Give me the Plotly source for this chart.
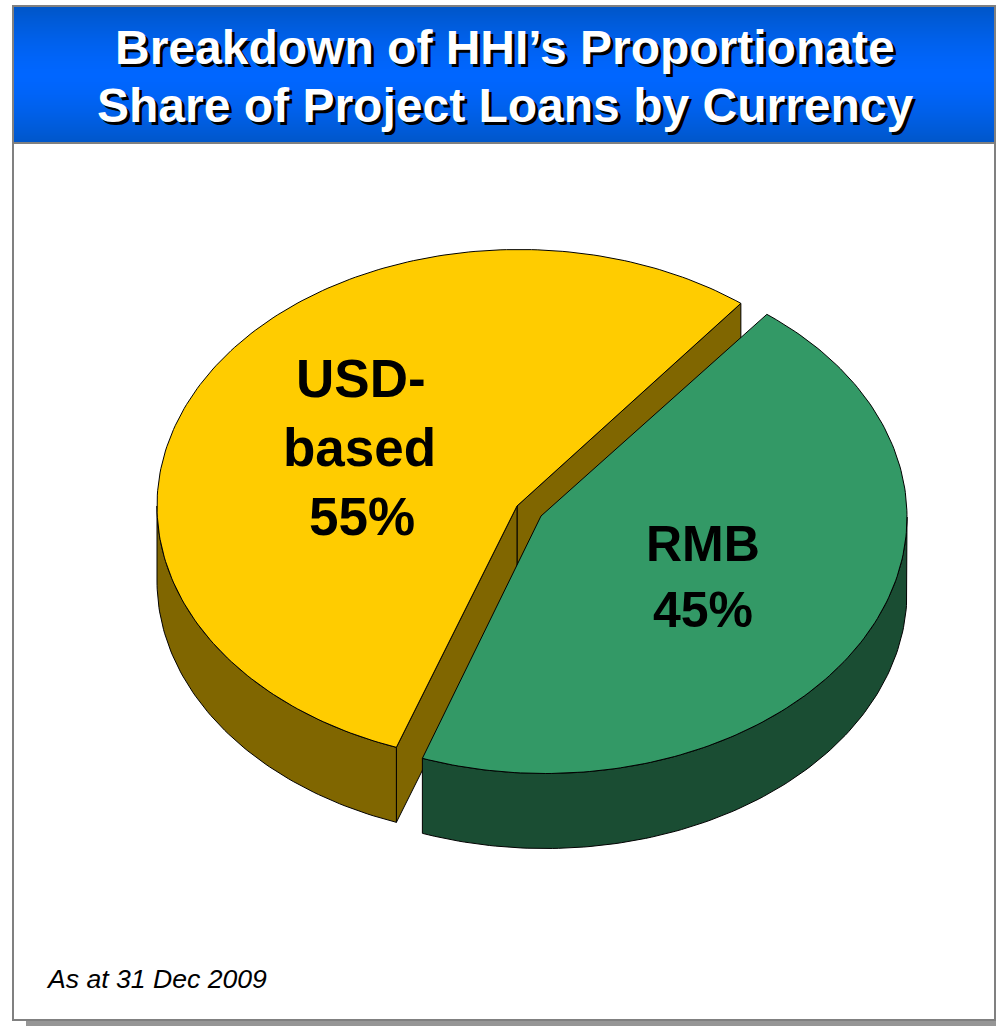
import numpy as np
import plotly.graph_objects as go

# Loan shares by currency, percent
currencies = ["USD-based", "RMB"]
shares = [55, 45]
label_lines = [["USD-", "based"], ["RMB"]]
title_lines = ["Breakdown of HHI\u2019s Proportionate", "Share of Project Loans by Currency"]
footnote = "As at 31 Dec 2009"

TOP_COLORS = ["#FFCC00", "#339966"]
WALL_COLORS = ["#806600", "#1A4D33"]
EDGE = "#000000"
FONT = "Liberation Sans"

W, H = 996, 1026
# Projected disc: ellipse centre of each slice, slice apex, radii, extrusion depth
# and rotation of the first slice
CENTERS = [(519.0, 506.0), (545.0, 517.0)]
APEXES = [(517.0, 506.0), (541.0, 516.0)]
RX, RY = 362.0, 256.5
DEPTH = 75.0
START_DEG = 52.2


def rim(center, a0, a1):
    n = max(2, int(abs(a1 - a0)) + 2)
    t = np.radians(np.linspace(a0, a1, n))
    return center[0] + RX * np.cos(t), center[1] - RY * np.sin(t)


def polygon(x, y, color, line_color=EDGE):
    return go.Scatter(
        x=list(x) + [x[0]], y=list(y) + [y[0]], mode="lines", fill="toself",
        fillcolor=color, line=dict(color=line_color, width=1),
        hoverinfo="skip", showlegend=False,
    )


def outer_wall(center, a0, a1, color):
    x, y = rim(center, a0, a1)
    return polygon(np.r_[x, x[::-1]], np.r_[y, y[::-1] + DEPTH], color)


def radial_wall(center, apex, angle, color):
    x, y = rim(center, angle, angle)
    ax, ay = apex
    return polygon(
        [ax, x[0], x[0], ax], [ay, y[0], y[0] + DEPTH, ay + DEPTH], color
    )


def top_face(center, apex, a0, a1, color):
    x, y = rim(center, a0, a1)
    return polygon(np.r_[apex[0], x], np.r_[apex[1], y], color)


spans = [s / sum(shares) * 360.0 for s in shares]
a0_usd, a1_usd = START_DEG, START_DEG + spans[0]
a0_rmb, a1_rmb = a1_usd, a1_usd + spans[1]

traces = [
    radial_wall(CENTERS[0], APEXES[0], a0_usd, WALL_COLORS[0]),
    radial_wall(CENTERS[0], APEXES[0], a1_usd, WALL_COLORS[0]),
    outer_wall(CENTERS[0], 180.0, a1_usd, WALL_COLORS[0]),
    top_face(CENTERS[0], APEXES[0], a0_usd, a1_usd, TOP_COLORS[0]),
    outer_wall(CENTERS[1], a0_rmb, 360.0, WALL_COLORS[1]),
    top_face(CENTERS[1], APEXES[1], a0_rmb, a1_rmb, TOP_COLORS[1]),
]

shapes = [
    # Drop shadow and white panel
    dict(type="rect", x0=26, x1=W, y0=20, y1=H, fillcolor="#969696", line_width=0, layer="below"),
    dict(type="rect", x0=13, x1=995, y0=6, y1=1020, fillcolor="#FFFFFF",
         line=dict(color="#808080", width=2), layer="below"),
]

# Header band: vertical blue gradient, brightest around the middle
HEAD_TOP, HEAD_BOTTOM = 7, 143
for row in range(HEAD_TOP, HEAD_BOTTOM):
    u = abs((row - 75.0) / 68.0)
    g = int(round(102 - 16 * u ** 1.5))
    b = int(round(255 - 55 * u ** 1.5))
    shapes.append(dict(type="rect", x0=14, x1=994, y0=row, y1=row + 1,
                       fillcolor=f"rgb(0,{g},{b})", line_width=0, layer="below"))
shapes.append(dict(type="line", x0=13, x1=995, y0=143, y1=143,
                   line=dict(color="#808080", width=2), layer="below"))


def text(x, y, s, size, color="#000000", bold=True, italic=False, anchor="center", shadow="none"):
    if bold:
        s = f"<b>{s}</b>"
    if italic:
        s = f"<i>{s}</i>"
    return dict(x=x, y=y, xref="x", yref="y", text=s, showarrow=False, xanchor=anchor,
                yanchor="middle", font=dict(family=FONT, size=size, color=color, shadow=shadow))


annotations = []
for line, y in zip(title_lines, [47, 105]):
    annotations.append(text(505, y, line, 48, color="#FFFFFF", shadow="3px 3px 0px #000000"))

usd_label = label_lines[0] + [f"{shares[0]}%"]
for line, x, y in zip(usd_label, [361, 359, 362], [378, 447, 516]):
    annotations.append(text(x, y, line, 53))
rmb_label = label_lines[1] + [f"{shares[1]}%"]
for line, y in zip(rmb_label, [544, 610]):
    annotations.append(text(703, y, line, 50))

annotations.append(text(44, 979, footnote, 26.6, bold=False, italic=True, anchor="left"))

fig = go.Figure(traces)
fig.update_layout(
    width=W, height=H, margin=dict(l=0, r=0, t=0, b=0),
    paper_bgcolor="#FFFFFF", plot_bgcolor="#FFFFFF",
    xaxis=dict(range=[0, W], visible=False, fixedrange=True),
    yaxis=dict(range=[H, 0], visible=False, fixedrange=True),
    shapes=shapes, annotations=annotations, showlegend=False,
)
fig.write_html("out.html", config={"displayModeBar": False})
